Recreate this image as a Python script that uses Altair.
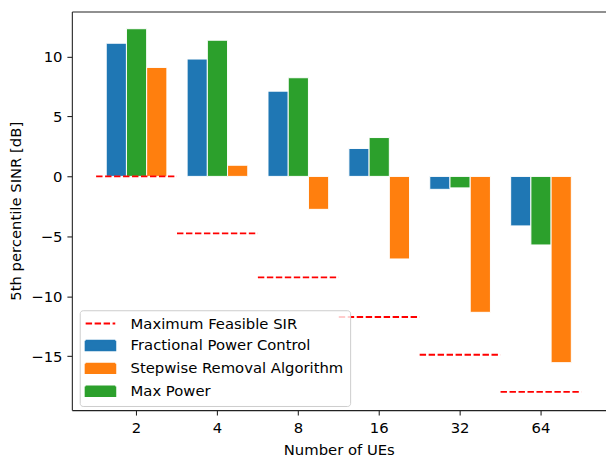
import altair as alt
import pandas as pd

ues = ["2", "4", "8", "16", "32", "64"]
fpc = [11.11, 9.79, 7.11, 2.33, -1.08, -4.13]
sra = [9.09, 0.93, -2.75, -6.89, -11.34, -15.54]
mp = [12.32, 11.36, 8.23, 3.24, -0.96, -5.72]
sir = [0.0, -4.75, -8.43, -11.73, -14.88, -17.97]

S_SIR = "Maximum Feasible SIR"
S_FPC = "Fractional Power Control"
S_SRA = "Stepwise Removal Algorithm"
S_MP = "Max Power"

legend_order = [S_SIR, S_FPC, S_SRA, S_MP]
colors = ["#ff0000", "#1f77b4", "#ff7f0e", "#2ca02c"]
bar_order = [S_FPC, S_MP, S_SRA]

rows = []
for i, u in enumerate(ues):
    rows.append({"ues": u, "series": S_FPC, "value": fpc[i]})
    rows.append({"ues": u, "series": S_MP, "value": mp[i]})
    rows.append({"ues": u, "series": S_SRA, "value": sra[i]})
bars_df = pd.DataFrame(rows)
sir_df = pd.DataFrame({"ues": ues, "series": [S_SIR] * len(ues), "value": sir})

FONT = "DejaVu Sans"
AX = "#222222"

xscale = alt.Scale(domain=ues, paddingInner=0, paddingOuter=0.3)
yscale = alt.Scale(domain=[-19.5, 13.76], nice=False, zero=False)

legend = alt.Legend(
    title=None,
    orient="none",
    legendX=8,
    legendY=302.8,
    padding=6,
    rowPadding=4.2,
    symbolSize=100,
    symbolStrokeWidth=2,
    symbolOffset=7.5,
    labelOffset=23,
    labelFont=FONT,
    labelFontSize=15,
    labelColor="black",
    labelLimit=400,
    strokeColor="#cccccc",
    fillColor="rgba(255,255,255,0.8)",
    cornerRadius=3,
)

color = alt.Color(
    "series:N",
    scale=alt.Scale(domain=legend_order, range=colors),
    legend=legend,
)

bars = alt.Chart(bars_df).mark_bar(stroke="white", strokeWidth=1).encode(
    x=alt.X(
        "ues:N",
        scale=xscale,
        sort=ues,
        axis=alt.Axis(
            title="Number of UEs",
            labelAngle=0,
            orient="bottom",
            domainColor=AX,
            domainWidth=1.1,
            tickColor=AX,
            tickWidth=1.1,
            tickSize=5,
            labelPadding=6,
            titlePadding=7,
        ),
    ),
    xOffset=alt.XOffset(
        "series:N",
        scale=alt.Scale(domain=bar_order, paddingInner=0, paddingOuter=0.5),
    ),
    y=alt.Y(
        "value:Q",
        scale=yscale,
        axis=alt.Axis(
            title="5th percentile SINR [dB]",
            values=[-15, -10, -5, 0, 5, 10],
            labelExpr="replace(datum.label, '-', '\u2212')",
            grid=False,
            domainColor=AX,
            domainWidth=1.1,
            tickColor=AX,
            tickWidth=1.1,
            tickSize=5,
            labelPadding=5,
            titlePadding=7,
        ),
    ),
    color=color,
)

lines = alt.Chart(sir_df).mark_rule(strokeDash=[6.5, 2.6], strokeWidth=1.8).encode(
    x=alt.X(
        "ues:N",
        scale=xscale,
        sort=ues,
        bandPosition=0,
        axis=alt.Axis(
            orient="top",
            title=None,
            labels=False,
            ticks=False,
            domain=True,
            domainColor=AX,
            domainWidth=1.1,
        ),
    ),
    x2=alt.X2("ues", bandPosition=1),
    y=alt.Y("value:Q", scale=yscale),
    color=color,
)

chart = (
    alt.layer(bars, lines)
    .resolve_axis(x="independent")
    .properties(
        width=541,
        height=404,
        autosize=alt.AutoSizeParams(type="none"),
        padding={"left": 64.7, "top": 0.5, "right": 0.3, "bottom": 45},
    )
    .configure_view(stroke=None)
    .configure_axis(
        labelFont=FONT,
        labelFontSize=15,
        labelColor="black",
        titleFont=FONT,
        titleFontSize=15,
        titleFontWeight="normal",
        titleColor="black",
    )
    .configure_legend(labelFont=FONT)
)

# Legend symbols: dashed line for the SIR entry, wide rectangles for bars.
is_line = "datum.value === '" + S_SIR + "'"
e_shape = is_line + " ? 'M-3,0H3' : 'M-3,-0.95H3V0.95H-3Z'"
e_fill = is_line + " ? 'transparent' : scale('color', datum.value)"
e_stroke = is_line + " ? '#ff0000' : 'transparent'"
e_dash = is_line + " ? [6.5, 2.6] : [1, 0]"

vega_update = {
    "shape": {"signal": e_shape},
    "fill": {"signal": e_fill},
    "stroke": {"signal": e_stroke},
    "strokeDash": {"signal": e_dash},
    "strokeWidth": {"value": 2},
    "size": {"value": 100},
    "opacity": {"value": 1},
}
vl_flat = {
    "shape": {"value": {"expr": e_shape}},
    "fill": {"value": {"expr": e_fill}},
    "stroke": {"value": {"expr": e_stroke}},
    "strokeDash": {"value": {"expr": e_dash}},
    "strokeWidth": {"value": 2},
    "size": {"value": 100},
    "opacity": {"value": 1},
}

_orig_to_dict = chart.to_dict


def _patched_to_dict(*args, **kwargs):
    d = _orig_to_dict(*args, **kwargs)
    for layer in d.get("layer", []):
        enc = layer.get("encoding", {})
        if "color" in enc and "legend" in enc["color"]:
            sym = dict(vl_flat)
            sym["update"] = dict(vega_update)
            enc["color"]["legend"]["encode"] = {"symbols": sym}
    return d


object.__setattr__(chart, "to_dict", _patched_to_dict)

chart.save("out.html", embed_options={"renderer": "svg", "actions": False})
